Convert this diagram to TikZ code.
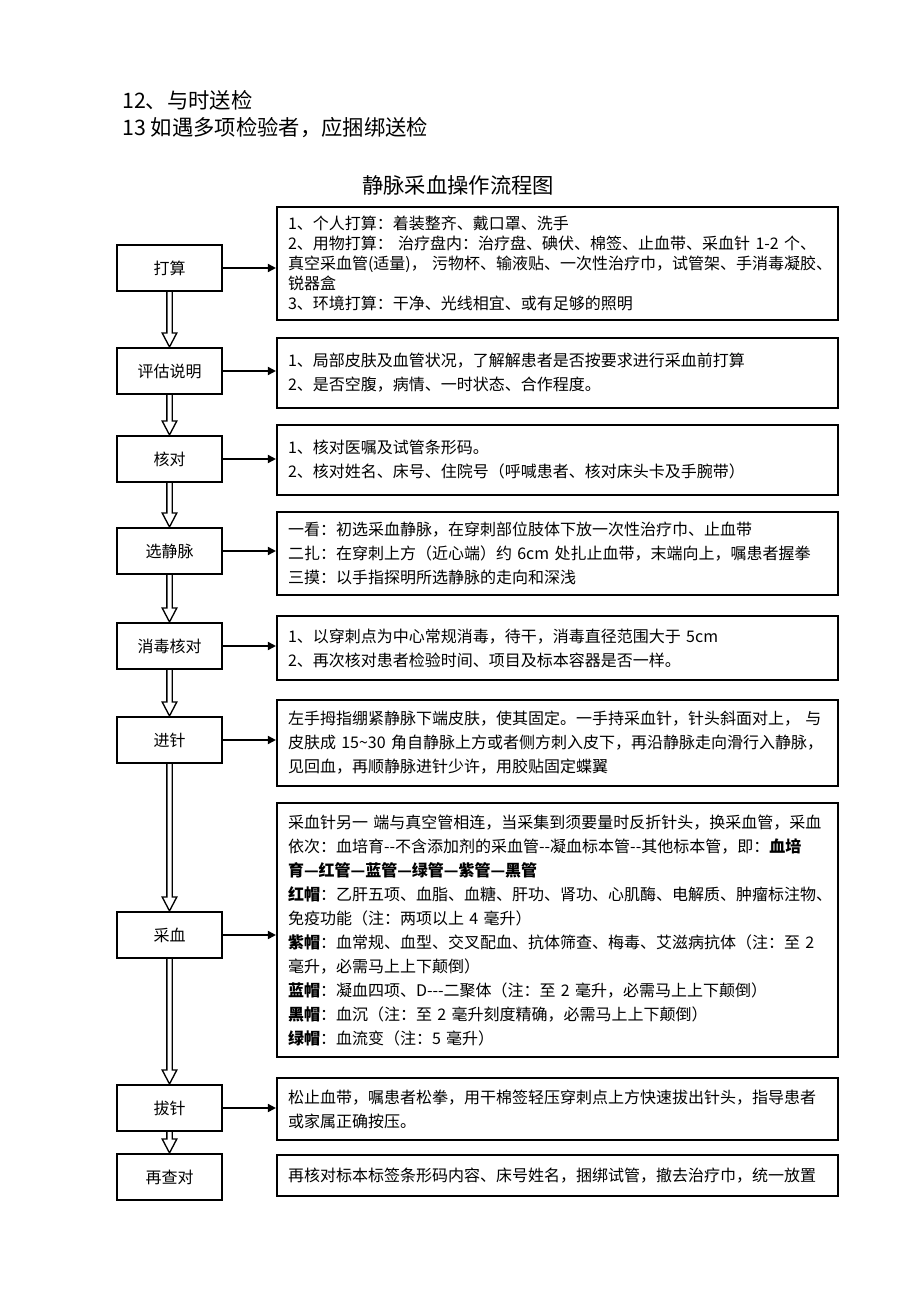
\documentclass[tikz,border=0pt]{standalone}
\usepackage{fontspec}
\setmainfont{Noto Sans CJK SC}
\usetikzlibrary{arrows.meta,calc}
\newcommand\FlowDArrow[2]{%
  \draw[dbl] let \p1=(#1.south), \p2=(#2.north) in
  (\x1-2pt,\y1) -- (\x1-2pt,\y2+10.5pt) -- (\x1-5.5pt,\y2+10.5pt) -- (\x1,\y2)
  -- (\x1+5.5pt,\y2+10.5pt) -- (\x1+2pt,\y2+10.5pt) -- (\x1+2pt,\y1);}
\begin{document}
\begin{tikzpicture}[x=0.75pt,y=-0.75pt,
  lbox/.style={draw, line width=1.6pt, minimum width=78.75pt, minimum height=34.5pt,
    inner sep=0pt, font=\fontsize{12pt}{14pt}\selectfont},
  rbox/.style={draw, line width=1.6pt, minimum width=420.75pt, text width=404.25pt,
    inner xsep=8.25pt, inner ysep=3pt, align=left, font=\fontsize{12pt}{18pt}\selectfont},
  harr/.style={line width=1.3pt, -{Triangle[length=6pt,width=6pt]}},
  dbl/.style={line width=1pt, line join=miter},
  head/.style={anchor=west, inner sep=0pt, font=\fontsize{16pt}{18pt}\selectfont}
]
\useasboundingbox[fill=white] (0,0) rectangle (920,1301);

\node[head] (h1) at (122,100) {12、与时送检};
\node[head] (h2) at (122,128) {13 如遇多项检验者，应捆绑送检};
\node[inner sep=0pt, font=\fontsize{16pt}{18pt}\selectfont] (title) at (458,185) {静脉采血操作流程图};

% left column
\node[lbox] (l1) at (169.5,268) {打算};
\node[lbox] (l2) at (169.5,371) {评估说明};
\node[lbox] (l3) at (169.5,459) {核对};
\node[lbox] (l4) at (169.5,551) {选静脉};
\node[lbox] (l5) at (169.5,646) {消毒核对};
\node[lbox] (l6) at (169.5,740) {进针};
\node[lbox] (l7) at (169.5,935) {采血};
\node[lbox] (l8) at (169.5,1108) {拔针};
\node[lbox] (l9) at (169.5,1177) {再查对};

% right column
\node[rbox, minimum height=84.75pt, font=\fontsize{12pt}{15pt}\selectfont] (r1) at (557.5,263.5) {1、个人打算：着装整齐、戴口罩、洗手\\
2、用物打算： 治疗盘内：治疗盘、碘伏、棉签、止血带、采血针 1-2 个、\\
真空采血管(适量)， 污物杯、输液贴、一次性治疗巾，试管架、手消毒凝胶、\\
锐器盒\\
3、环境打算：干净、光线相宜、或有足够的照明};
\node[rbox, minimum height=52.5pt] (r2) at (557.5,373) {1、局部皮肤及血管状况，了解解患者是否按要求进行采血前打算\\
2、是否空腹，病情、一时状态、合作程度。};
\node[rbox, minimum height=52.5pt] (r3) at (557.5,460) {1、核对医嘱及试管条形码。\\
2、核对姓名、床号、住院号（呼喊患者、核对床头卡及手腕带）};
\node[rbox, minimum height=62.25pt] (r4) at (557.5,553.5) {一看：初选采血静脉，在穿刺部位肢体下放一次性治疗巾、止血带\\
二扎：在穿刺上方（近心端）约 6cm 处扎止血带，末端向上，嘱患者握拳\\
三摸：以手指探明所选静脉的走向和深浅};
\node[rbox, minimum height=48pt] (r5) at (557.5,648) {1、以穿刺点为中心常规消毒，待干，消毒直径范围大于 5cm\\
2、再次核对患者检验时间、项目及标本容器是否一样。};
\node[rbox, minimum height=64.5pt] (r6) at (557.5,743) {左手拇指绷紧静脉下端皮肤，使其固定。一手持采血针，针头斜面对上， 与\\
皮肤成 15\textasciitilde 30 角自静脉上方或者侧方刺入皮下，再沿静脉走向滑行入静脉，\\
见回血，再顺静脉进针少许，用胶贴固定蝶翼};
\node[rbox, minimum height=190.5pt] (r7) at (557.5,930) {采血针另一 端与真空管相连，当采集到须要量时反折针头，换采血管，采血\\
依次：血培育{-}{-}不含添加剂的采血管{-}{-}凝血标本管{-}{-}其他标本管，即：\textbf{血培}\\
\textbf{育—红管—蓝管—绿管—紫管—黑管}\\
\textbf{红帽}：乙肝五项、血脂、血糖、肝功、肾功、心肌酶、电解质、肿瘤标注物、\\
免疫功能（注：两项以上 4 毫升）\\
\textbf{紫帽}：血常规、血型、交叉配血、抗体筛查、梅毒、艾滋病抗体（注：至 2\\
毫升，必需马上上下颠倒）\\
\textbf{蓝帽}：凝血四项、D{-}{-}{-}二聚体（注：至 2 毫升，必需马上上下颠倒）\\
\textbf{黑帽}：血沉（注：至 2 毫升刻度精确，必需马上上下颠倒）\\
\textbf{绿帽}：血流变（注：5 毫升）};
\node[rbox, minimum height=46.5pt] (r8) at (557.5,1109) {松止血带，嘱患者松拳，用干棉签轻压穿刺点上方快速拔出针头，指导患者\\
或家属正确按压。};
\node[rbox, minimum height=30.75pt] (r9) at (557.5,1175.5) {再核对标本标签条形码内容、床号姓名，捆绑试管，撤去治疗巾，统一放置};

% horizontal arrows
\foreach \i in {1,...,8} {
  \draw[harr] (l\i.east) -- (l\i.east -| r\i.west);
}

% vertical double arrows
\FlowDArrow{l1}{l2}
\FlowDArrow{l2}{l3}
\FlowDArrow{l3}{l4}
\FlowDArrow{l4}{l5}
\FlowDArrow{l5}{l6}
\FlowDArrow{l6}{l7}
\FlowDArrow{l7}{l8}
\FlowDArrow{l8}{l9}
\end{tikzpicture}
\end{document}
